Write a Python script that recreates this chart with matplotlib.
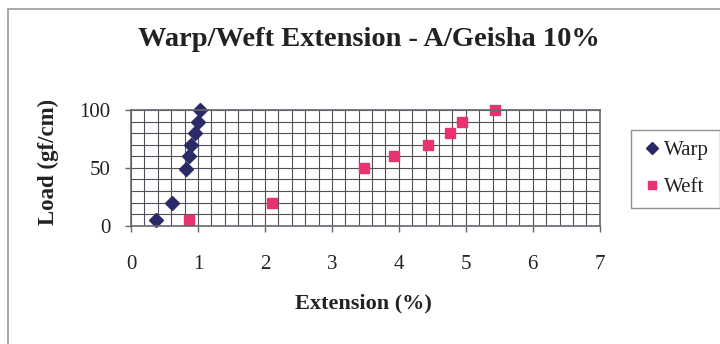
import matplotlib.pyplot as plt
from matplotlib.patches import Rectangle
import numpy as np

# extension (%) vs load (gf/cm)
warp_ext = [0.38, 0.61, 0.82, 0.86, 0.90, 0.96, 1.00, 1.03]
warp_load = [5, 20, 49, 60, 70, 80, 90, 100]
weft_ext = [0.86, 2.10, 3.48, 3.93, 4.44, 4.77, 4.94, 5.43]
weft_load = [5, 20, 50, 60, 70, 80, 90, 100]

serif = ["Liberation Serif", "DejaVu Serif"]
plt.rcParams["font.family"] = serif

fig = plt.figure(figsize=(7.2, 3.44), dpi=100)
fig.patch.set_facecolor("white")
# chart frame, runs off the right and bottom edges
top = 1 - 9 / 344
fig.patches.append(Rectangle((8 / 720, -0.05), 1.1, top + 0.05,
                             transform=fig.transFigure, fill=False,
                             edgecolor="#9a9a9a", linewidth=1.2))

ax = fig.add_axes([0.182, 0.344, 0.651, 0.336])
ax.set_xlim(0, 7)
ax.set_ylim(0, 100)
ax.set_xticks(range(0, 8))
ax.set_yticks([0, 50, 100])
ax.set_xticks(np.arange(0, 7.01, 0.2), minor=True)
ax.set_yticks(range(0, 101, 10), minor=True)
ax.grid(which="both", color="#505058", linewidth=0.8)
ax.tick_params(which="minor", length=0)
ax.tick_params(which="major", length=4, width=1, color="#666666",
               labelsize=15, pad=11, labelcolor="#222222")
ax.tick_params(axis="x", which="major", pad=17)
for s in ax.spines.values():
    s.set_color("#666670")
    s.set_linewidth(1.2)
ax.set_axisbelow(True)

ax.plot(warp_ext, warp_load, linestyle="none", marker="D", markersize=7,
        color="#2a2a66", label="Warp", clip_on=False)
ax.plot(weft_ext, weft_load, linestyle="none", marker="s", markersize=7.5,
        color="#e8336e", label="Weft", clip_on=False)

ax.set_xlabel("Extension (%)", fontsize=16, fontweight="bold", color="#222222")
ax.xaxis.set_label_coords(0.495, -0.59)
ax.set_ylabel("Load (gf/cm)", fontsize=16.5, fontweight="bold", color="#222222")
ax.yaxis.set_label_coords(-0.177, 0.554)
ax.yaxis.label.set_va("center")

fig.text(369 / 720, 1 - 40 / 344, "Warp/Weft Extension - A/Geisha 10%",
         ha="center", va="center", fontsize=20.5, fontweight="bold",
         color="#222222")

leg = fig.legend(loc="upper left", bbox_to_anchor=(631 / 720, 1 - 130 / 344),
                 fontsize=15, frameon=True, fancybox=False, handletextpad=0.1,
                 handlelength=1.0, labelspacing=0.85, borderpad=0.5,
                 borderaxespad=0, markerscale=0.85)
leg.get_frame().set_edgecolor("#777777")
leg.get_frame().set_linewidth(1.0)
for t in leg.get_texts():
    t.set_color("#222222")

fig.savefig("out.png", dpi=100)
